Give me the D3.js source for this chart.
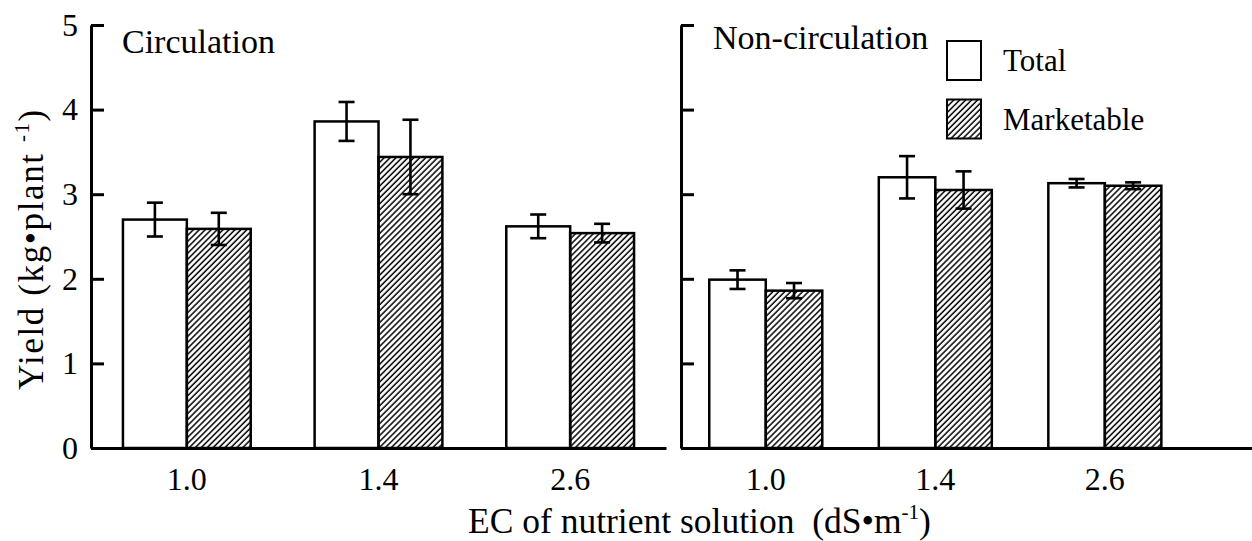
<!DOCTYPE html>
<html lang="en">
<head>
	<meta charset="UTF-8">
	<title>Yield</title>
	<style>
		body { margin: 0; background: #fff; }
		svg text { font-family: "Liberation Serif", "DejaVu Serif", Times, serif !important; fill: #000; }
	</style>
</head>
<body>
	<script src="https://cdn.jsdelivr.net/npm/d3@7"></script>
	<script>
		// EC levels and yields (kg/plant, mean and error)
		var groups = ["1.0", "1.4", "2.6"],
			series = ["Total", "Marketable"],
			yTicks = [0, 1, 2, 3, 4, 5];

		var circTotal = [2.70, 3.86, 2.62],
			circTotalErr = [0.20, 0.23, 0.14],
			circMarket = [2.59, 3.44, 2.54],
			circMarketErr = [0.19, 0.44, 0.11];

		var nonTotal = [1.99, 3.20, 3.13],
			nonTotalErr = [0.11, 0.25, 0.05],
			nonMarket = [1.86, 3.05, 3.10],
			nonMarketErr = [0.09, 0.22, 0.04];

		var width = 1252,
			height = 541;

		var svg = d3.select("body").append("svg")
			.attr("width", width)
			.attr("height", height)

		// hatch for marketable bars
		svg.append("defs").append("pattern")
			.attr("id", "hatch")
			.attr("patternUnits", "userSpaceOnUse")
			.attr("width", 4.2)
			.attr("height", 10)
			.attr("patternTransform", "rotate(45)")
			.append("line")
				.attr("x1", 1).attr("y1", 0)
				.attr("x2", 1).attr("y2", 10)
				.attr("stroke", "#000")
				.attr("stroke-width", 1.5)

		var y = d3.scaleLinear()
			.domain([0, 5])
			.range([448, 25]);

		function panel(opts) {
			var x0 = d3.scaleBand()
				.domain(groups)
				.range(opts.range)
				.paddingOuter(opts.outer)
				.align(0);

			var x1 = d3.scaleBand()
				.domain(series)
				.range([0, x0.bandwidth()])
				.paddingOuter(0.5);

			var g = svg.append("g");

			var rows = groups.map(function(d, i) {
				return [
					{group: d, key: "Total", v: opts.total[i], e: opts.totalErr[i]},
					{group: d, key: "Marketable", v: opts.market[i], e: opts.marketErr[i]}
				];
			});
			var flat = [].concat.apply([], rows);

			g.selectAll("rect.bar")
				.data(flat)
				.enter()
				.append("rect")
				.attr("class", "bar")
				.attr("x", function(d){ return x0(d.group) + x1(d.key); })
				.attr("y", function(d){ return y(d.v); })
				.attr("width", x1.bandwidth())
				.attr("height", function(d){ return y(0) - y(d.v); })
				.attr("fill", function(d){ return d.key == "Total" ? "#fff" : "url(#hatch)"; })
				.attr("stroke", "#000")
				.attr("stroke-width", 2.5)

			var err = g.selectAll("g.err")
				.data(flat)
				.enter()
				.append("g")
				.attr("class", "err")
				.attr("transform", function(d){
					return "translate(" + (x0(d.group) + x1(d.key) + x1.bandwidth() / 2) + ",0)";
				})
				.attr("stroke", "#000")
				.attr("stroke-width", 2.6)

			err.append("line")
				.attr("y1", function(d){ return y(d.v + d.e); })
				.attr("y2", function(d){ return y(d.v - d.e); })
			err.append("line")
				.attr("x1", -8).attr("x2", 8)
				.attr("y1", function(d){ return y(d.v + d.e); })
				.attr("y2", function(d){ return y(d.v + d.e); })
			err.append("line")
				.attr("x1", -8).attr("x2", 8)
				.attr("y1", function(d){ return y(d.v - d.e); })
				.attr("y2", function(d){ return y(d.v - d.e); })

			// x axis
			var xAxis = d3.axisBottom(x0).tickSize(0).tickSizeOuter(0).tickPadding(19);
			var gx = g.append("g")
				.attr("transform", "translate(0," + y(0) + ")")
				.call(xAxis)
			gx.select(".domain").attr("stroke-width", 3)
			gx.attr("font-family", null)
			gx.selectAll("text").attr("font-size", 32)

			// y axis, ticks pointing inward
			var yAxis = d3.axisLeft(y).tickValues(yTicks)
				.tickSizeInner(-13).tickSizeOuter(0).tickPadding(13)
				.tickFormat(opts.labels ? d3.format("d") : "");
			var gy = g.append("g")
				.attr("transform", "translate(" + opts.range[0] + ",0)")
				.call(yAxis)
			gy.select(".domain").attr("stroke-width", 3)
			gy.selectAll(".tick line").attr("stroke-width", 3)
			gy.attr("font-family", null)
			gy.selectAll("text").attr("font-size", 32)

			g.append("text")
				.attr("x", opts.title[0])
				.attr("y", opts.title[1])
				.attr("font-size", 34)
				.text(opts.name)
		}

		panel({
			name: "Circulation",
			range: [91, 666],
			outer: 0,
			total: circTotal, totalErr: circTotalErr,
			market: circMarket, marketErr: circMarketErr,
			labels: true,
			title: [122, 53]
		})

		panel({
			name: "Non-circulation",
			range: [681, 1252],
			outer: 0.184,
			total: nonTotal, totalErr: nonTotalErr,
			market: nonMarket, marketErr: nonMarketErr,
			labels: false,
			title: [713, 49]
		})

		// legend
		var legend = svg.append("g")
			.attr("transform", "translate(947,41)")

		var item = legend.selectAll("g")
			.data(series)
			.enter()
			.append("g")
			.attr("transform", function(d, i){ return "translate(0," + (i * 58.5) + ")"; })

		item.append("rect")
			.attr("width", 34)
			.attr("height", 39)
			.attr("fill", function(d){ return d == "Total" ? "#fff" : "url(#hatch)"; })
			.attr("stroke", "#000")
			.attr("stroke-width", 2)
		item.append("text")
			.attr("x", 56)
			.attr("y", 30)
			.attr("font-size", 31)
			.text(function(d){ return d; })

		// axis titles
		var yt = svg.append("text")
			.attr("transform", "translate(43,249) rotate(-90)")
			.attr("text-anchor", "middle")
			.attr("font-size", 35)
			.attr("letter-spacing", 1.6)
		yt.append("tspan").text("Yield (kg\u2022plant ")
		yt.append("tspan").attr("font-size", 21).attr("dy", -14).text("-1")
		yt.append("tspan").attr("dy", 14).text(")")

		var xt = svg.append("text")
			.attr("x", 468)
			.attr("y", 533)
			.attr("font-size", 35.5)
			.style("white-space", "pre")
		xt.append("tspan").text("EC of nutrient solution  (dS\u2022m")
		xt.append("tspan").attr("font-size", 21).attr("dy", -14).text("-1")
		xt.append("tspan").attr("dy", 14).text(")")
	</script>
</body>
</html>
